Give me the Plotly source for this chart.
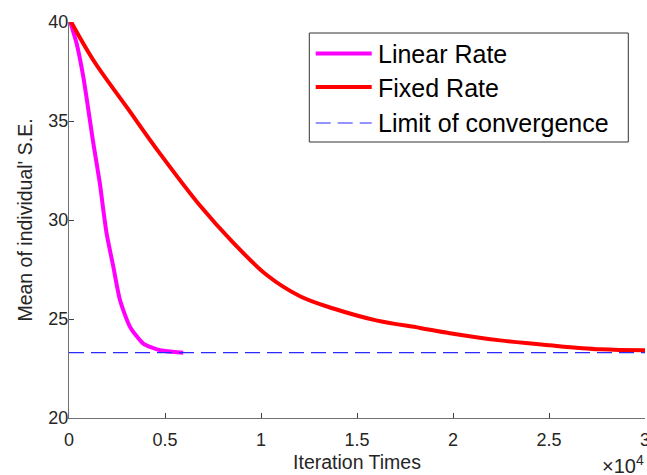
import plotly.graph_objects as go

# ---- data ----
linear_x = [0, 400, 750, 1270, 1610, 1790, 1960, 2310, 2660, 3180, 3870, 4740, 5950]
linear_y = [40.2, 38.9, 37.2, 33.86, 31.84, 30.49, 29.31, 27.63, 25.94, 24.6, 23.76, 23.42, 23.30]

fixed_x = [0, 1270, 3000, 4740, 6820, 8560, 10300, 12030, 13770, 16000, 18280, 19840, 22450, 25050, 27660, 30000]
fixed_y = [40.2, 38.07, 35.71, 33.35, 30.73, 28.85, 27.22, 26.15, 25.53, 24.93, 24.55, 24.28, 23.92, 23.67, 23.47, 23.42]

limit_value = 23.3
limit_x = [0, 30000]

x_tickvals = [0, 5000, 10000, 15000, 20000, 25000, 30000]
x_ticktext = ["0", "0.5", "1", "1.5", "2", "2.5", "3"]
y_tickvals = [20, 25, 30, 35, 40]

series_names = ["Linear Rate", "Fixed Rate", "Limit of convergence"]

FONT = "Liberation Sans, Arial, Helvetica, sans-serif"
TXT = "#262626"

fig = go.Figure()
fig.add_trace(go.Scatter(x=linear_x, y=linear_y, mode="lines", name=series_names[0],
                         line=dict(color="#ff00ff", width=4, shape="spline", smoothing=0.6)))
fig.add_trace(go.Scatter(x=fixed_x, y=fixed_y, mode="lines", name=series_names[1],
                         line=dict(color="#ff0000", width=4, shape="spline", smoothing=1.0)))
fig.add_trace(go.Scatter(x=limit_x, y=[limit_value] * len(limit_x), mode="lines", name=series_names[2],
                         line=dict(color="#2b2bff", width=1.2, dash="15px,7px")))

axis_common = dict(showgrid=False, zeroline=False, showline=True, linecolor="#707070", linewidth=1,
                   ticks="inside", ticklen=5, tickcolor="#404040", tickwidth=1,
                   tickfont=dict(family=FONT, size=18, color=TXT), mirror=False,
                   ticklabeloverflow="allow")

fig.update_xaxes(range=[0, 30000], tickvals=x_tickvals, ticktext=x_ticktext,
                 ticklabelstandoff=5,
                 title=dict(text="Iteration Times", font=dict(family=FONT, size=19.5, color=TXT), standoff=6),
                 **axis_common)
fig.update_yaxes(range=[20, 40], tickvals=y_tickvals, ticklabelstandoff=-4,
                 title=dict(text="Mean of individual' S.E.", font=dict(family=FONT, size=19.5, color=TXT), standoff=10),
                 **axis_common)

# ---- layout in window pixels: plot area x 69..645, y 21.7..417.7 ----
W, H = 647, 475
L, R, T, B = 69, W - 645, 21.7, H - 417.7
pw, ph = 645 - 69, 417.7 - 21.7
def px(x): return (x - 69) / pw
def py(y): return (417.7 - y) / ph

shapes = [dict(type="rect", xref="paper", yref="paper", x0=px(309.3), x1=px(628.3), y0=py(141.7), y1=py(32.7),
               line=dict(color="#333333", width=1), fillcolor="white", layer="above")]
rows = [53.3, 86.7, 122.7]
styles = [dict(color="#ff00ff", width=4), dict(color="#ff0000", width=4),
          dict(color="#2b2bff", width=1.2, dash="15px,7px")]
annotations = []
for name, r, st in zip(series_names, rows, styles):
    shapes.append(dict(type="line", xref="paper", yref="paper", x0=px(315.7), x1=px(371.7),
                       y0=py(r), y1=py(r), line=st, layer="above"))
    annotations.append(dict(text=name, xref="paper", yref="paper", x=px(376), y=py(r + 0.5),
                            xanchor="left", yanchor="middle", showarrow=False,
                            font=dict(family=FONT, size=25, color="black")))

annotations.append(dict(text="×10<sup>4</sup>", xref="paper", yref="paper", x=px(646), y=py(464),
                        xanchor="right", yanchor="middle", showarrow=False,
                        font=dict(family=FONT, size=20, color=TXT)))

fig.update_layout(width=W, height=H, margin=dict(l=L, r=R, t=T, b=B, autoexpand=False),
                  plot_bgcolor="white", paper_bgcolor="white", showlegend=False,
                  shapes=shapes, annotations=annotations)

fig.write_html("out.html", config={"displayModeBar": False},
               post_script="document.body.style.margin='0';document.body.style.padding='0';"
                           "document.documentElement.style.overflow='hidden';")
